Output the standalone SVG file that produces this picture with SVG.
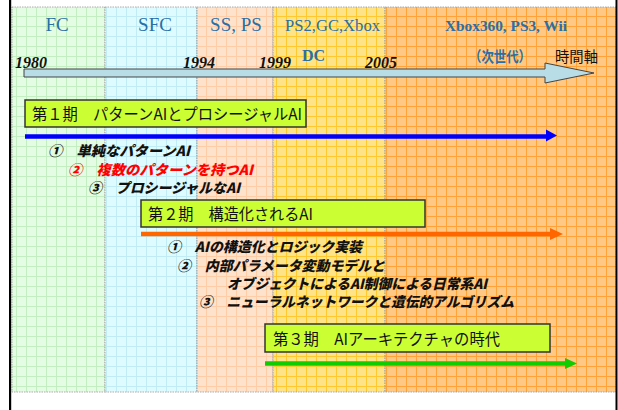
<svg xmlns="http://www.w3.org/2000/svg" width="618" height="410" viewBox="0 0 618 410">
<style>
.con{font-family:"Liberation Serif","DejaVu Serif",serif;fill:#2a6fa6}
.yr{font-family:"Liberation Serif","DejaVu Serif",serif;font-weight:bold;font-style:italic;font-size:16px;fill:#111}
.jp{font-family:"Noto Sans CJK JP","Noto Sans",sans-serif}
.ph{font-family:"Noto Sans CJK JP","Noto Sans",sans-serif;font-size:15.5px;fill:#111}
.it{font-family:"Noto Sans CJK JP","Noto Sans",sans-serif;font-size:14px;font-weight:900;font-style:italic;fill:#111}
.box{fill:#ccff33;stroke:#333;stroke-width:1.5}
.band{stroke:#999;stroke-width:0.8;stroke-dasharray:1.5 1}
</style>
<defs>
<pattern id="gG" x="6" y="6" width="10" height="10" patternUnits="userSpaceOnUse"><rect width="10" height="10" fill="#e4fce4"/><path d="M0 0.5H10M0.5 0V10" stroke="#c2eec2" stroke-width="1"/></pattern>
<pattern id="gC" x="6" y="6" width="10" height="10" patternUnits="userSpaceOnUse"><rect width="10" height="10" fill="#defcff"/><path d="M0 0.5H10M0.5 0V10" stroke="#c2ecf5" stroke-width="1"/></pattern>
<pattern id="gP" x="6" y="6" width="10" height="10" patternUnits="userSpaceOnUse"><rect width="10" height="10" fill="#ffe2cc"/><path d="M0 0.5H10M0.5 0V10" stroke="#ffcca8" stroke-width="1"/></pattern>
<pattern id="gY" x="6" y="6" width="10" height="10" patternUnits="userSpaceOnUse"><rect width="10" height="10" fill="#ffe388"/><path d="M0 0.5H10M0.5 0V10" stroke="#ffc830" stroke-width="1"/></pattern>
<pattern id="gO" x="6" y="6" width="10" height="10" patternUnits="userSpaceOnUse"><rect width="10" height="10" fill="#ffc985"/><path d="M0 0.5H10M0.5 0V10" stroke="#ffa23a" stroke-width="1"/></pattern>
</defs>
<rect width="618" height="410" fill="#fff"/>
<g id="bands">
<rect class="band" x="12" y="7" width="93" height="385" fill="url(#gG)"/>
<rect class="band" x="105" y="7" width="92" height="385" fill="url(#gC)"/>
<rect class="band" x="197" y="7" width="76" height="385" fill="url(#gP)"/>
<rect class="band" x="273" y="7" width="112" height="385" fill="url(#gY)"/>
<rect class="band" x="385" y="7" width="231" height="385" fill="url(#gO)"/>
</g>
<g id="frame">
<rect x="9" y="0" width="2.2" height="410" fill="#000"/>
<rect x="615.5" y="0" width="2" height="410" fill="#000"/>
</g>
<g id="consoles">
<text class="con" x="57" y="31" font-size="19" text-anchor="middle">FC</text>
<text class="con" x="155" y="31" font-size="19" text-anchor="middle">SFC</text>
<text class="con" x="236" y="31" font-size="19" text-anchor="middle">SS, PS</text>
<text class="con" x="285" y="31" font-size="16.5" textLength="95" lengthAdjust="spacingAndGlyphs">PS2,GC,Xbox</text>
<text class="con" x="302" y="61" font-size="16" font-weight="bold">DC</text>
<text class="con" x="445" y="31" font-size="15" font-weight="bold" textLength="122" lengthAdjust="spacingAndGlyphs">Xbox360, PS3, Wii</text>
<text class="jp" x="469" y="62" font-size="14.5" font-weight="bold" fill="#2a6fa6" textLength="62" lengthAdjust="spacingAndGlyphs">（次世代）</text>
</g>
<g id="timeline">
<path d="M24,69 H545 V63 L594,73 L545,83 V77 H24 Z" fill="#b8dde6" stroke="#444" stroke-width="1"/>
<text class="yr" x="15" y="68">1980</text>
<text class="yr" x="183" y="68">1994</text>
<text class="yr" x="259" y="68">1999</text>
<text class="yr" x="365" y="68">2005</text>
<text class="jp" x="555" y="62" font-size="14.5" fill="#111" textLength="43" lengthAdjust="spacingAndGlyphs">時間軸</text>
</g>
<g id="connectors">
<path d="M25,136.5 H547" stroke="#0000ff" stroke-width="4.5"/>
<polygon points="546,129.5 557,135.5 546,141.5" fill="#0000ff"/>
<path d="M141,234 H552" stroke="#ff6600" stroke-width="4.5"/>
<polygon points="550,228 563,234 550,240" fill="#ff6600"/>
<path d="M265,363.5 H567" stroke="#11cc00" stroke-width="4.5"/>
<polygon points="565,358 577,363.5 565,369" fill="#11cc00"/>
</g>
<g id="phase1">
<rect class="box" x="25" y="100" width="281" height="27"/>
<text class="ph" x="32" y="120" textLength="270" lengthAdjust="spacingAndGlyphs">第１期　パターンAIとプロシージャルAI</text>
</g>
<g id="phase1-items">
<text class="it" x="48" y="156" textLength="142" lengthAdjust="spacingAndGlyphs">①　単純なパターンAI</text>
<text class="it" x="68" y="175" style="fill:#ff0000" textLength="185" lengthAdjust="spacingAndGlyphs">②　複数のパターンを持つAI</text>
<text class="it" x="88" y="193" textLength="152" lengthAdjust="spacingAndGlyphs">③　プロシージャルなAI</text>
</g>
<g id="phase2">
<rect class="box" x="141" y="200" width="284" height="27"/>
<text class="ph" x="148" y="220" textLength="165" lengthAdjust="spacingAndGlyphs">第２期　構造化されるAI</text>
</g>
<g id="phase2-items">
<text class="it" x="167" y="252" textLength="195" lengthAdjust="spacingAndGlyphs">①　AIの構造化とロジック実装</text>
<text class="it" x="177" y="271" textLength="208" lengthAdjust="spacingAndGlyphs">②　内部パラメータ変動モデルと</text>
<text class="it" x="227" y="289" textLength="260" lengthAdjust="spacingAndGlyphs">オブジェクトによるAI制御による日常系AI</text>
<text class="it" x="199" y="307" textLength="315" lengthAdjust="spacingAndGlyphs">③　ニューラルネットワークと遺伝的アルゴリズム</text>
</g>
<g id="phase3">
<rect class="box" x="265" y="324" width="285" height="28"/>
<text class="ph" x="273" y="345" textLength="227" lengthAdjust="spacingAndGlyphs">第３期　AIアーキテクチャの時代</text>
</g>
</svg>
